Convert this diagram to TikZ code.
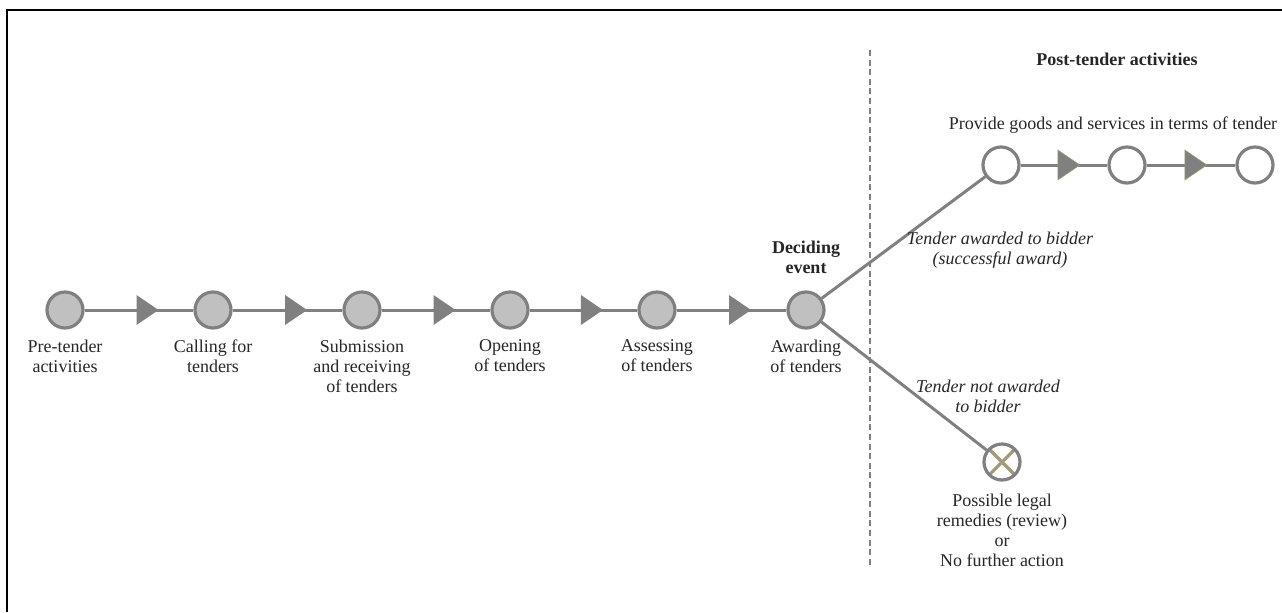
\documentclass[tikz,border=0pt]{standalone}
\usepackage{fontspec}
\setmainfont{Liberation Serif}
\usetikzlibrary{shapes.geometric}
\usetikzlibrary{positioning}
\definecolor{linegray}{HTML}{808080}
\definecolor{fillgray}{HTML}{C0C0C0}
\definecolor{crossbrown}{HTML}{A39A78}
\definecolor{textgray}{HTML}{262626}

\begin{document}
\begin{tikzpicture}[x=0.5pt, y=-0.5pt, font=\fontsize{9}{10}\selectfont, text=textgray,
    stage/.style={circle, draw=linegray, line width=1.6pt, fill=fillgray, minimum size=18pt, inner sep=0pt},
    post/.style={stage, fill=white},
    flow/.style={draw=linegray, line width=1.5pt},
    tri/.style={isosceles triangle, isosceles triangle stretches, shape border rotate=0, fill=linegray, minimum width=15pt, minimum height=11pt, inner sep=0pt},
    lbl/.style={align=center, inner sep=1pt}]
    \useasboundingbox (0,0) rectangle (1282,612);

    % Frame
    \coordinate (fbl) at (7,612);
    \coordinate (ftl) at (7,10);
    \coordinate (ftr) at (1282,10);
    \draw[line width=1pt] (fbl) -- (ftl) -- (ftr);

    % Tender process
    \node[stage] (pre) at (65,310) {};
    \node[stage] (call) at (213,310) {};
    \node[stage] (sub) at (362,310) {};
    \node[stage] (open) at (510,310) {};
    \node[stage] (assess) at (657,310) {};
    \node[stage] (award) at (806,310) {};

    \draw[flow] (pre) -- node[tri, pos=0.55] {} (call);
    \draw[flow] (call) -- node[tri, pos=0.55] {} (sub);
    \draw[flow] (sub) -- node[tri, pos=0.55] {} (open);
    \draw[flow] (open) -- node[tri, pos=0.55] {} (assess);
    \draw[flow] (assess) -- node[tri, pos=0.55] {} (award);

    \node[lbl, below=4pt of pre] (prelbl) {Pre-tender\\activities};
    \node[lbl, below=4pt of call] (calllbl) {Calling for\\tenders};
    \node[lbl, below=4pt of sub] (sublbl) {Submission\\and receiving\\of tenders};
    \node[lbl, below=4pt of open] (openlbl) {Opening\\of tenders};
    \node[lbl, below=4pt of assess] (assesslbl) {Assessing\\of tenders};
    \node[lbl, below=4pt of award] (awardlbl) {Awarding\\of tenders};
    \node[lbl, above=7pt of award, font=\fontsize{9}{10}\selectfont\bfseries] (decide) {Deciding\\event};

    % Divider
    \coordinate (divtop) at (870,50);
    \coordinate (divbot) at (870,568);
    \draw[linegray, line width=0.8pt, dash pattern=on 3pt off 1.8pt] (divtop) -- (divbot);

    % Post-tender activities
    \node[lbl, font=\fontsize{9}{10}\selectfont\bfseries] (posthead) at (1117,59) {Post-tender activities};
    \node[post] (p1) at (1001,165) {};
    \node[post] (p2) at (1127,165) {};
    \node[post] (p3) at (1255,165) {};
    \draw[flow] (p1) -- node[tri, pos=0.52, draw=crossbrown, line width=0.3pt] {} (p2);
    \draw[flow] (p2) -- node[tri, pos=0.52, draw=crossbrown, line width=0.3pt] {} (p3);
    \node[lbl, above=5pt of p2, xshift=-7pt] (provide) {Provide goods and services in terms of tender};

    \node[post, path picture={
        \draw[crossbrown, line width=1.6pt] (path picture bounding box.center) +(45:12pt) -- +(225:12pt);
        \draw[crossbrown, line width=1.6pt] (path picture bounding box.center) +(135:12pt) -- +(315:12pt);}] (nofurther) at (1002,462) {};
    \node[lbl, below=5pt of nofurther] (remedies) {Possible legal\\remedies (review)\\or\\No further action};

    % Branches
    \draw[flow] (award) -- (p1);
    \draw[flow] (award) -- (nofurther);
    \node[lbl, font=\fontsize{9}{10}\selectfont\itshape] (yes) at (1000,250) {Tender awarded to bidder\\(successful award)};
    \node[lbl, font=\fontsize{9}{10}\selectfont\itshape] (no) at (988,396) {Tender not awarded\\to bidder};
\end{tikzpicture}
\end{document}
